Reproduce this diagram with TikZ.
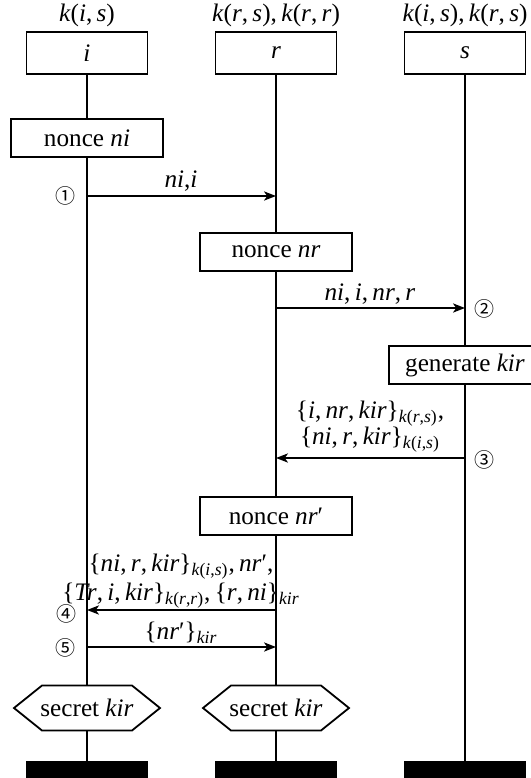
\documentclass[tikz,border=0pt]{standalone}
\usepackage{fontspec}
\setmainfont{Liberation Serif}
\newfontfamily\circfont{Noto Sans CJK JP}
\usetikzlibrary{arrows.meta}
\newcommand\vv[1]{\textit{#1}}
\newcommand\cs{,\hspace{0.17em}}
\newcommand\sub[1]{\textsubscript{#1}}
\tikzset{
  every node/.style={font=\fontsize{12.6}{15}\selectfont, inner sep=0pt},
  lbox/.style={draw, fill=white, line width=0.9pt, minimum width=76pt, minimum height=19pt},
  hbox/.style={draw, fill=white, line width=0.9pt, minimum width=60.5pt, minimum height=21pt},
  barbox/.style={fill=black, minimum width=61pt, minimum height=9pt},
  lifeline/.style={line width=0.75pt},
  msg/.style={line width=0.75pt, -{Stealth[length=6pt,width=4.6pt,inset=1.6pt]}},
  num/.style={font=\circfont\fontsize{10}{11}\selectfont},
  hexa/.style={draw, fill=white, line width=0.9pt},
}
\begin{document}
\begin{tikzpicture}[x=0.5pt,y=-0.5pt]
\useasboundingbox (0,0) rectangle (531,778);
% header labels
\node (KI) at (87,15) {\vv{k}(\vv{i}\cs\vv{s})};
\node (KR) at (276,15) {\vv{k}(\vv{r}\cs\vv{s})\cs\vv{k}(\vv{r}\cs\vv{r})};
\node (KS) at (465,15) {\vv{k}(\vv{i}\cs\vv{s})\cs\vv{k}(\vv{r}\cs\vv{s})};
% header boxes
\node[hbox] (I) at (87,53) {\vv{i}};
\node[hbox] (R) at (276,53) {\vv{r}};
\node[hbox] (S) at (465,53) {\vv{s}};
% end bars
\node[barbox] (BI) at (87,770) {};
\node[barbox] (BR) at (276,770) {};
\node[barbox] (BS) at (465,770) {};
% lifelines
\draw[lifeline] (I.south) -- (BI.north);
\draw[lifeline] (R.south) -- (BR.north);
\draw[lifeline] (S.south) -- (BS.north);
% action boxes
\node[lbox] (NI) at (87,138) {nonce \vv{ni}};
\node[lbox] (NR) at (276,252) {nonce \vv{nr}};
\node[lbox] (GK) at (465,365) {generate \vv{kir}};
\node[lbox] (NR2) at (276,516) {nonce \vv{nr}′};
% hexagons
\filldraw[hexa] (14,708) -- (42,685.5) -- (132,685.5) -- (160,708) -- (132,730.5) -- (42,730.5) -- cycle;
\node (SI) at (87,708) {secret \vv{kir}};
\filldraw[hexa] (203,708) -- (231,685.5) -- (321,685.5) -- (349,708) -- (321,730.5) -- (231,730.5) -- cycle;
\node (SR) at (276,708) {secret \vv{kir}};
% message end points
\coordinate (m1a) at (87,196);  \coordinate (m1b) at (276,196);
\coordinate (m2a) at (276,308); \coordinate (m2b) at (465,308);
\coordinate (m3a) at (465,458); \coordinate (m3b) at (276,458);
\coordinate (m4a) at (276,610); \coordinate (m4b) at (87,610);
\coordinate (m5a) at (87,647);  \coordinate (m5b) at (276,647);
\draw[msg] (m1a) -- (m1b);
\draw[msg] (m2a) -- (m2b);
\draw[msg] (m3a) -- (m3b);
\draw[msg] (m4a) -- (m4b);
\draw[msg] (m5a) -- (m5b);
% message labels
\node (L1) at (181,181) {\vv{ni},\vv{i}};
\node (L2) at (370,294) {\vv{ni}\cs\vv{i}\cs\vv{nr}\cs\vv{r}};
\node (L3a) at (370,414) {\{\vv{i}\cs\vv{nr}\cs\vv{kir}\}\sub{\vv{k}(\vv{r},\vv{s})},};
\node (L3b) at (370,440) {\{\vv{ni}\cs\vv{r}\cs\vv{kir}\}\sub{\vv{k}(\vv{i},\vv{s})}};
\node (L4a) at (181,567) {\{\vv{ni}\cs\vv{r}\cs\vv{kir}\}\sub{\vv{k}(\vv{i},\vv{s})}\cs\vv{nr}′,};
\node (L4b) at (181,596) {\{\vv{Tr}\cs\vv{i}\cs\vv{kir}\}\sub{\vv{k}(\vv{r},\vv{r})}\cs\{\vv{r}\cs\vv{ni}\}\sub{\vv{kir}}};
\node (L5) at (181,633) {\{\vv{nr}′\}\sub{\vv{kir}}};
% step numbers
\node[num] (N1) at (65,196) {①};
\node[num] (N2) at (484,309) {②};
\node[num] (N3) at (484,460) {③};
\node[num] (N4) at (66,614) {④};
\node[num] (N5) at (65,648) {⑤};
\end{tikzpicture}
\end{document}
